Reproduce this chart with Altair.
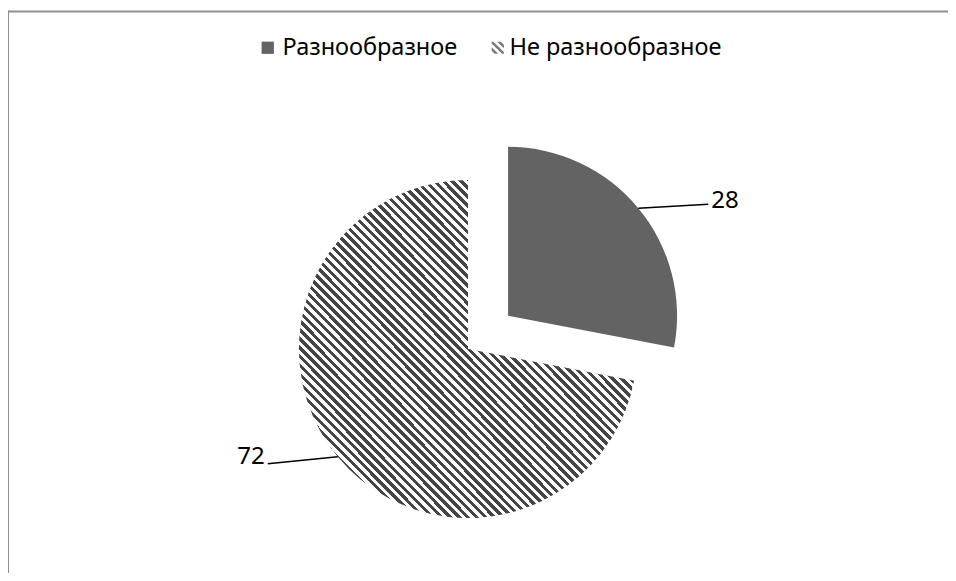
import altair as alt
import pandas as pd

# ---- data ----
categories = ["Разнообразное", "Не разнообразное"]
values = [28, 72]
df = pd.DataFrame({"category": categories, "value": values})

# ---- layout / style constants ----
CX, CY, R, EXPLODE = 460, 341, 169, 52
FONT = "Noto Sans"
DARK = "#636363"
LEG_Y = 28


def stripes(n, dark="#454545", light="#ffffff", duty=0.5):
    stops = []
    for i in range(n):
        a = round(i / n, 5)
        b = round((i + duty) / n, 5)
        c = round((i + 1) / n, 5)
        stops += [(a, dark), (b, dark), (b, light), (c, light)]
    return [alt.GradientStop(offset=o, color=col) for o, col in stops]


hatch = alt.LinearGradient(gradient="linear", stops=stripes(76), x1=0, y1=1, x2=1, y2=0)

# striped square for the legend symbol, in Vega's [-1, 1] symbol space
HATCH_SYMBOL = (
    "M-0.7,-1L-1,-1L-1,-0.7L0.7,1L1,1L1,0.7Z"
    "M-0.1,-1L0.5,-1L1,-0.5L1,0.1Z"
    "M-1,-0.1L-1,0.5L-0.5,1L0.1,1Z"
)

base = (
    alt.Chart(df)
    .transform_window(idx="row_number()")
    .transform_joinaggregate(total="sum(value)")
    .transform_window(cum="sum(value)", sort=[alt.SortField("idx")], frame=[None, 0])
    .transform_calculate(
        mid="2*PI*(datum.cum - datum.value/2)/datum.total",
        ex=f"datum.category === 'Разнообразное' ? {EXPLODE} : 0",
        cx=f"{CX} + datum.ex*sin(datum.mid)",
        cy=f"{CY} - datum.ex*cos(datum.mid)",
        sx=f"datum.cx + {R}*sin(datum.mid)",
        sy=f"datum.cy - {R}*cos(datum.mid)",
        side="sin(datum.mid) >= 0 ? 1 : -1",
        ex2="datum.sx + datum.side*70",
        ey2="datum.sy + (datum.side > 0 ? -4 : 7)",
        lx="datum.ex2 + datum.side*3",
        ly="datum.ey2 + (datum.side > 0 ? -3 : -7)",
    )
)

theta = alt.Theta("value:Q", stack=True)
order = alt.Order("idx:Q", sort="ascending")
xc = alt.X("cx:Q", scale=None)
yc = alt.Y("cy:Q", scale=None)

legend_common = dict(
    orient="none",
    legendY=LEG_Y,
    direction="horizontal",
    title=None,
    symbolSize=150,
    symbolStrokeWidth=0,
    symbolOpacity=1,
    labelFont=FONT,
    labelFontSize=23.5,
    labelColor="#000000",
    padding=0,
    labelLimit=400,
)

arc_dark = base.mark_arc(radius=R).encode(
    theta=theta,
    order=order,
    x=xc,
    y=yc,
    color=alt.Color(
        "category:N",
        scale=alt.Scale(domain=categories, range=[DARK, "#c8c8c8"]),
        legend=alt.Legend(legendX=248, symbolType="square", values=[categories[0]],
                          labelOffset=3, **legend_common),
    ),
)

arc_hatch = base.mark_arc(radius=R, fill=hatch).encode(
    theta=theta,
    order=order,
    detail="category:N",
    x=xc,
    y=yc,
    fillOpacity=alt.condition("datum.category === 'Разнообразное'", alt.value(0), alt.value(1)),
)

# off-canvas point that only supplies the striped legend entry
legend_hatch = base.transform_filter(f"datum.category === '{categories[1]}'").mark_point(
    filled=True, color="#7a7a7a", opacity=1
).encode(
    x=alt.value(-60),
    y=alt.value(-60),
    shape=alt.Shape(
        "category:N",
        scale=alt.Scale(domain=[categories[1]], range=[HATCH_SYMBOL]),
        legend=alt.Legend(legendX=478, labelOffset=0, **legend_common),
    ),
)

leaders = base.mark_rule(color="#000000", strokeWidth=1.5).encode(
    x=alt.X("sx:Q", scale=None),
    y=alt.Y("sy:Q", scale=None),
    x2="ex2:Q",
    y2="ey2:Q",
)

labels_right = base.transform_filter("datum.side > 0").mark_text(
    align="left", baseline="middle", font=FONT, fontSize=24, color="#000000"
).encode(x=alt.X("lx:Q", scale=None), y=alt.Y("ly:Q", scale=None), text="value:Q")

labels_left = base.transform_filter("datum.side < 0").mark_text(
    align="right", baseline="middle", font=FONT, fontSize=24, color="#000000"
).encode(x=alt.X("lx:Q", scale=None), y=alt.Y("ly:Q", scale=None), text="value:Q")

one = alt.Data(values=[{"k": 1}])
frame_top = alt.Chart(one).mark_rule(color="#8f8f8f", strokeWidth=2).encode(
    x=alt.value(-2), x2=alt.value(960), y=alt.value(3.5)
)
frame_left = alt.Chart(one).mark_rule(color="#8f8f8f", strokeWidth=2).encode(
    x=alt.value(0), y=alt.value(2.5), y2=alt.value(600)
)

chart = (
    alt.layer(frame_top, frame_left, arc_dark, arc_hatch, legend_hatch, leaders, labels_right, labels_left)
    .resolve_legend(color="independent", shape="independent")
    .properties(width=940, height=565, autosize="none", padding=0)
    .configure_view(strokeWidth=0)
)

chart.save("out.html", embed_options={"renderer": "svg", "actions": False})
